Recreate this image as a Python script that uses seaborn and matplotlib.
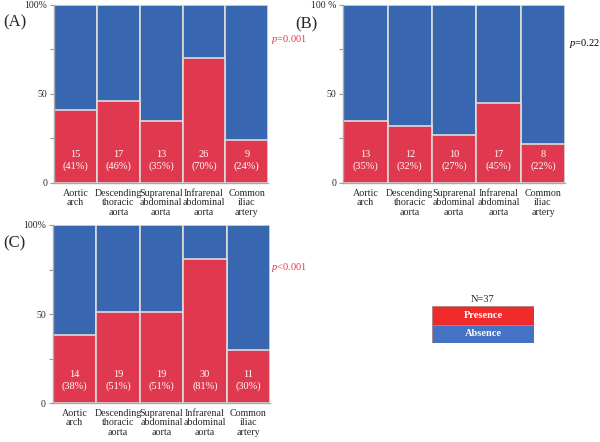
import numpy as np
import pandas as pd
import matplotlib
matplotlib.use('Agg')
import matplotlib.pyplot as plt
import seaborn as sns
from matplotlib.patches import Rectangle

sites = ['Aortic\narch', 'Descending\nthoracic\naorta', 'Suprarenal\nabdominal\naorta',
         'Infrarenal\nabdominal\naorta', 'Common\niliac\nartery']

count_a = [15, 17, 13, 26, 9]
pct_a = [41, 46, 35, 70, 24]
count_b = [13, 12, 10, 17, 8]
pct_b = [35, 32, 27, 45, 22]
count_c = [14, 19, 19, 30, 11]
pct_c = [38, 51, 51, 81, 30]

pvals = ['=0.001', '=0.22', '<0.001']

sns.set_style('white')
plt.rcParams['font.family'] = ['Liberation Serif', 'DejaVu Serif']
plt.rcParams['mathtext.fontset'] = 'custom'
plt.rcParams['mathtext.it'] = 'Liberation Serif:italic'
plt.rcParams['mathtext.rm'] = 'Liberation Serif'

red = '#E0394F'
blue = '#3866B0'

fig = plt.figure(figsize=(6, 4.42), dpi=100)

def panel(pos, counts, pct, label, label_xy, ptext, pcol, p_xy, top_label):
    ax = fig.add_axes(pos)
    df = pd.DataFrame({'site': sites, 'pct': pct, 'all': [100]*5})
    sns.barplot(data=df, x='site', y='all', color=blue, width=1, saturation=1,
                edgecolor='#dcdcdc', linewidth=1.2, ax=ax)
    sns.barplot(data=df, x='site', y='pct', color=red, width=1, saturation=1,
                edgecolor='#dcdcdc', linewidth=1.2, ax=ax)
    for i, (c, p) in enumerate(zip(counts, pct)):
        ax.text(i, 12.5, f'{c}\n({p}%)', ha='center', va='center', color='white',
                fontsize=7.5, linespacing=1.3)
    ax.set_xlim(-0.5, 4.5)
    ax.set_ylim(0, 100)
    ax.set_yticks([0, 25, 50, 75, 100])
    ax.set_yticklabels(['0', '', '50', '', top_label], fontsize=7)
    ax.tick_params(axis='y', length=3, color='#999999', pad=2, left=True)
    ax.tick_params(axis='x', length=0, labelsize=7.2, pad=4)
    for t in ax.get_xticklabels():
        t.set_linespacing(1.12)
    ax.set_xlabel('')
    ax.set_ylabel('')
    for s in ['top', 'right']:
        ax.spines[s].set_visible(False)
    for s in ['left', 'bottom']:
        ax.spines[s].set_color('#aaaaaa')
        ax.spines[s].set_linewidth(1)
    fig.text(label_xy[0], label_xy[1], label, fontsize=12)
    fig.text(p_xy[0], p_xy[1], '$p$' + ptext, color=pcol, fontsize=7.5)
    return ax

panel([0.09, 0.586, 0.357, 0.403], count_a, pct_a, '(A)', (0.005, 0.94),
      pvals[0], red, (0.452, 0.905), '100%')
panel([0.572, 0.586, 0.37, 0.403], count_b, pct_b, '(B)', (0.492, 0.935),
      pvals[1], 'black', (0.948, 0.897), '100 %')
panel([0.088, 0.088, 0.362, 0.403], count_c, pct_c, '(C)', (0.005, 0.44),
      pvals[2], red, (0.452, 0.39), '100%')

# legend
lax = fig.add_axes([432/600, 1 - 343/442, 102/600, 37/442])
lax.set_xlim(0, 1)
lax.set_ylim(0, 2)
lax.add_patch(Rectangle((0, 1), 1, 1, facecolor='#EE2A2A', edgecolor='#b08080', lw=0.6))
lax.add_patch(Rectangle((0, 0), 1, 1, facecolor='#4472C4', edgecolor='#b08080', lw=0.6))
lax.text(0.5, 1.5, 'Presence', color='white', ha='center', va='center', fontsize=7.5, fontweight='bold')
lax.text(0.5, 0.5, 'Absence', color='white', ha='center', va='center', fontsize=7.5, fontweight='bold')
lax.axis('off')
fig.text(483/600, 1 - 299/442, 'N=37', ha='center', va='center', fontsize=7.5)

fig.savefig('out.png', dpi=100)
